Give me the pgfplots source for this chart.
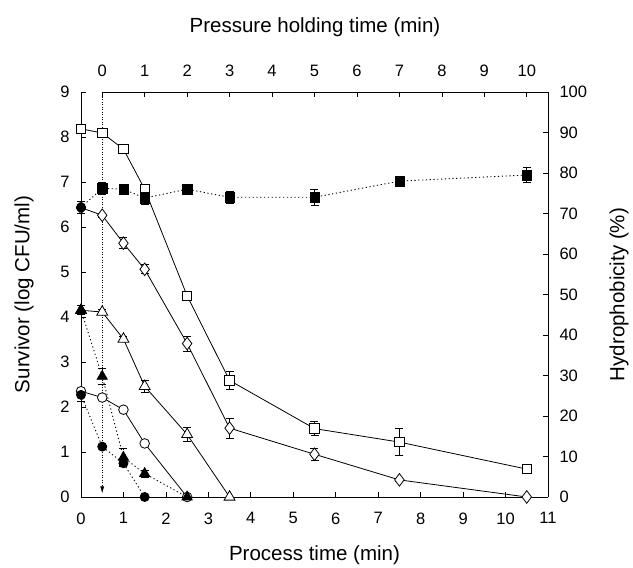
\documentclass[border=0pt]{standalone}
\usepackage{pgfplots}
\pgfplotsset{compat=1.18}
\usepackage{pgfplotstable}
\usepackage{fontspec}
\setmainfont{Liberation Sans}
\usetikzlibrary{arrows.meta}

\pgfplotstableread{
x y e
0 8.18 0.05
0.5 8.09 0.05
1 7.73 0.10
1.5 6.84 0.10
2.5 4.47 0.10
3.5 2.59 0.20
5.5 1.52 0.15
7.5 1.22 0.30
10.5 0.62 0.10
}\sq
\pgfplotstableread{
x y e
0 6.43 0
0.5 6.26 0.05
1 5.64 0.12
1.5 5.06 0.10
2.5 3.41 0.17
3.5 1.53 0.22
5.5 0.95 0.13
7.5 0.38 0.03
10.5 0 0
}\dia
\pgfplotstableread{
x y e
0 4.15 0
0.5 4.11 0.05
1 3.51 0.05
1.5 2.46 0.14
2.5 1.39 0.15
3.5 0 0
}\tri
\pgfplotstableread{
x y e
0 2.35 0
0.5 2.21 0.05
1 1.94 0.03
1.5 1.19 0.03
2.5 0 0
}\cir
\pgfplotstableread{
x y e
0 4.15 0.10
0.5 2.68 0.17
1 0.88 0.20
1.5 0.52 0.08
2.5 0 0
}\ftri
\pgfplotstableread{
x y e
0 2.27 0.15
0.5 1.12 0.03
1 0.75 0.05
1.5 0 0
}\fcir
\pgfplotstableread{
x y e
0 71.5 1.5
0.5 76.2 1.5
1 76.0 0.8
1.5 73.8 1.5
2.5 76.0 0.8
3.5 74.0 1.5
5.5 74.0 2.0
7.5 78.0 1.2
10.5 79.5 1.8
}\hyd
\pgfplotstableread{
x y e
0.5 76.2 1.5
1 76.0 0.8
1.5 73.8 1.5
2.5 76.0 0.8
3.5 74.0 1.5
5.5 74.0 2.0
7.5 78.0 1.2
10.5 79.5 1.8
}\hydm
\pgfplotstableread{
x y e
0 71.5 1.5
}\hydz

\pgfplotsset{
  base/.style={scale only axis, width=467pt, height=405pt,
    at={(0pt,0pt)}, anchor=south west, xmin=0, xmax=11,
    tick align=inside, major tick length=5pt,
    tick style={black, line width=0.7pt},
    tick label style={font=\fontsize{16.5}{19}\selectfont},
    /pgf/number format/assume math mode=true, clip=false},
  eb/.style={error bars/.cd, y dir=both, y explicit,
    error bar style={line width=0.7pt, black},
    error mark options={rotate=90, mark size=4pt, line width=0.7pt, black}},
  sline/.style={black, line width=0.8pt, solid},
  dline/.style={black, line width=0.9pt, dash pattern=on 1.2pt off 2.6pt},
}

\begin{document}
\begin{tikzpicture}
\path[use as bounding box] (-81pt,-71pt) rectangle (552pt,497pt);
\begin{axis}[base, ymin=0, ymax=9,
  axis x line*=bottom, axis y line*=left,
  axis line style={line width=0.8pt},
  xtick={0,...,11}, ytick={0,...,9},
  xticklabel style={yshift=-12pt},
  yticklabel style={xshift=-8pt}]
\addplot[black, line width=0.6pt, dash pattern=on 1pt off 1.5pt, -{Latex[length=7pt,width=4pt]}] coordinates {(0.5,9) (0.5,0.08)};
\draw[line width=0.8pt] (axis cs:0.5,9) -- (axis cs:11,9);
\addplot[sline, mark=square*, mark size=4.7pt, mark options={solid, fill=white, draw=black, line width=0.8pt}, eb] table[x=x, y=y, y error=e] {\sq};
\addplot[sline, mark=diamond*, mark size=6.3pt, mark options={solid, fill=white, draw=black, line width=0.8pt}, eb] table[x=x, y=y, y error=e] {\dia};
\addplot[sline, mark=triangle*, mark size=6.3pt, mark options={solid, fill=white, draw=black, line width=0.8pt}, eb] table[x=x, y=y, y error=e] {\tri};
\addplot[sline, mark=*, mark size=4.8pt, mark options={solid, fill=white, draw=black, line width=0.8pt}, eb] table[x=x, y=y, y error=e] {\cir};
\addplot[dline, mark=triangle*, mark size=5.8pt, mark options={solid, fill=black, draw=black}, eb] table[x=x, y=y, y error=e] {\ftri};
\addplot[dline, mark=*, mark size=4.5pt, mark options={solid, fill=black, draw=black}, eb] table[x=x, y=y, y error=e] {\fcir};
\end{axis}
\begin{axis}[base, ymin=0, ymax=100,
  axis y line*=right, axis x line=none,
  axis line style={line width=0.8pt},
  ytick={0,10,...,100},
  yticklabel style={xshift=8pt}]
\addplot[dline, no marks] table[x=x, y=y] {\hyd};
\addplot[only marks, mark=square*, mark size=4.7pt, mark options={solid, fill=black, draw=black}, eb] table[x=x, y=y, y error=e] {\hydm};
\addplot[only marks, mark=*, mark size=4.8pt, mark options={solid, fill=black, draw=black}, eb] table[x=x, y=y, y error=e] {\hydz};
\end{axis}
\begin{axis}[base, xmin=-0.5, xmax=10.5, ymin=0, ymax=9,
  axis x line*=top, axis y line=none,
  x axis line style={draw=none},
  xtick={0,...,10},
  xticklabel style={yshift=12pt}]
\end{axis}
\node[rotate=90, font=\fontsize{20.5}{24}\selectfont] at (-57pt,202.5pt) {Survivor (log CFU/ml)};
\node[rotate=90, font=\fontsize{20.5}{24}\selectfont] at (538pt,202.5pt) {Hydrophobicity (\%)};
\node[font=\fontsize{20.5}{24}\selectfont] at (234pt,470pt) {Pressure holding time (min)};
\node[font=\fontsize{20.5}{24}\selectfont] at (233.5pt,-58pt) {Process time (min)};
\end{tikzpicture}
\end{document}
